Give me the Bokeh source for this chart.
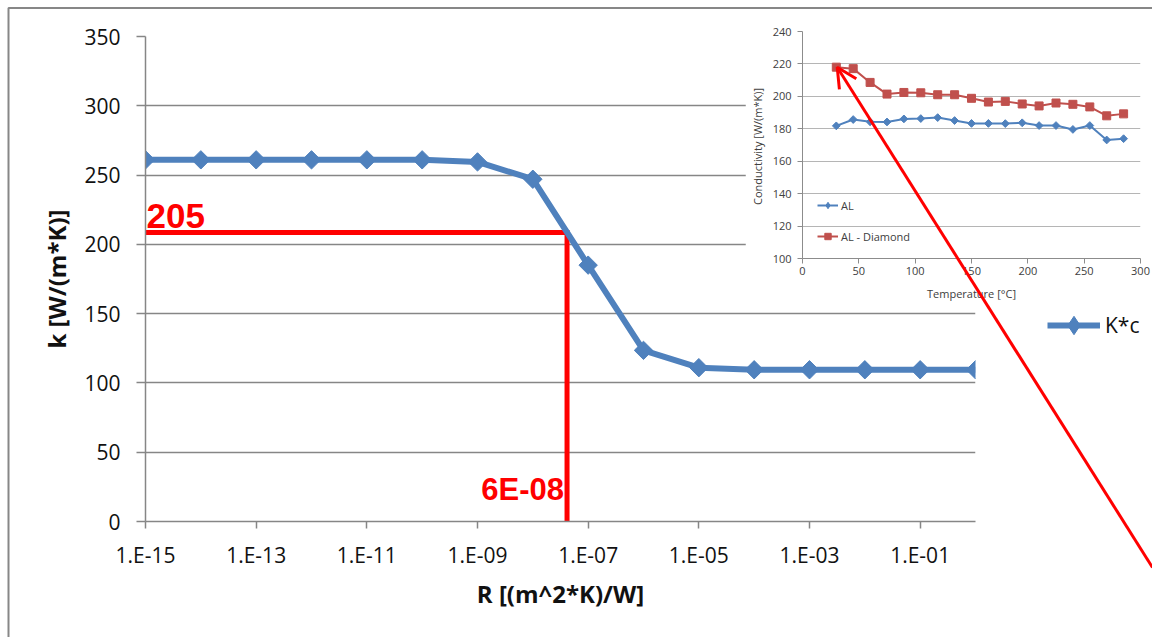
import numpy as np
from bokeh.plotting import figure
from bokeh.models import (Range1d, FixedTicker, CustomJSTickFormatter, Legend, LegendItem,
                          Arrow, OpenHead, Column)
from bokeh.core.properties import value
from bokeh.embed import file_html
from bokeh.resources import INLINE

# ---------------- data: main chart ----------------
R_values = [1e-15, 1e-14, 1e-13, 1e-12, 1e-11, 1e-10, 1e-09, 1e-08,
            1e-07, 1e-06, 1e-05, 1e-04, 1e-03, 1e-02, 1e-01, 1e+00]
k_values = [261, 261, 261, 261, 261, 261, 259.5, 247,
            185, 123.5, 111, 109.5, 109.5, 109.5, 109.5, 109.5]
series_name = "K*c"
R_ticks = [1e-15, 1e-13, 1e-11, 1e-09, 1e-07, 1e-05, 1e-03, 1e-01]
k_ticks = [0, 50, 100, 150, 200, 250, 300, 350]
k_mark = 208.5
k_mark_label = "205"
R_mark = 4.15e-08
R_mark_label = "6E-08"

# ---------------- data: inset chart ----------------
temperature = [30, 45, 60, 75, 90, 105, 120, 135, 150, 165, 180, 195, 210, 225, 240, 255, 270, 285]
al = [181.8, 185.7, 184.3, 184.2, 186.1, 186.3, 186.9, 185.1, 183.3, 183.3, 183.2, 183.7,
      182.0, 182.0, 179.6, 182.0, 173.1, 173.9]
al_diamond = [218.0, 217.1, 208.6, 201.4, 202.4, 202.2, 201.0, 201.0, 198.8, 196.5, 196.9,
              195.3, 194.1, 195.9, 195.1, 193.5, 188.0, 189.2]
temp_ticks = [0, 50, 100, 150, 200, 250, 300]
cond_ticks = [100, 120, 140, 160, 180, 200, 220, 240]

BLUE = "#4F81BD"
RED_S = "#C0504D"
GRID = "#868686"
FONT = "Open Sans"

# ---------------- main figure ----------------
p = figure(width=1152, height=637, x_axis_type="log",
           x_range=Range1d(R_values[0], R_values[-1]), y_range=Range1d(k_ticks[0], k_ticks[-1]),
           output_backend="svg", toolbar_location=None, frame_align=False,
           min_border_left=145, min_border_right=177, min_border_top=36, min_border_bottom=116)
p.outline_line_color = None
p.background_fill_color = "white"
p.border_fill_color = "white"
p.xgrid.visible = False
p.ygrid.grid_line_color = GRID
p.ygrid.grid_line_width = 1.3
p.yaxis.ticker = FixedTicker(ticks=k_ticks)
p.xaxis.ticker = FixedTicker(ticks=R_ticks)
p.xaxis.formatter = CustomJSTickFormatter(code="""
const e = Math.round(Math.log10(tick));
const a = Math.abs(e);
return "1.E" + (e < 0 ? "-" : "+") + (a < 10 ? "0" + a : a);
""")
for ax in (p.xaxis, p.yaxis):
    ax.axis_line_color = GRID
    ax.axis_line_width = 1.5
    ax.major_tick_line_color = GRID
    ax.major_tick_line_width = 1.5
    ax.major_tick_in = 0
    ax.minor_tick_line_color = None
    ax.major_label_text_font = FONT
    ax.major_label_text_font_size = "21px"
    ax.major_label_text_color = "#111111"
    ax.axis_label_text_font = FONT
    ax.axis_label_text_font_size = "24px"
    ax.axis_label_text_font_style = "bold"
    ax.axis_label_text_color = "#111111"
p.yaxis.major_tick_out = 9
p.xaxis.major_tick_out = 7
p.yaxis.major_label_standoff = 16
p.xaxis.major_label_standoff = 12
p.yaxis.axis_label = "k [W/(m*K)]"
p.xaxis.axis_label = "R [(m^2*K)/W]"
p.yaxis.axis_label_standoff = 8
p.xaxis.axis_label_standoff = 5

# red marker lines
p.line(x=[R_values[0], R_mark, R_mark], y=[k_mark, k_mark, k_ticks[0]],
       line_color="red", line_width=5, line_join="miter")
p.text(x=[R_values[0]], y=[k_mark], text=[k_mark_label], text_color="red",
       text_font=value("Liberation Sans"), text_font_style="bold", text_font_size="35px",
       text_baseline="middle", text_align="left", x_offset=1, y_offset=-17)
p.text(x=[R_mark], y=[k_ticks[0]], text=[R_mark_label], text_color="red",
       text_font=value("Liberation Sans"), text_font_style="bold", text_font_size="31px",
       text_baseline="middle", text_align="right", x_offset=-3, y_offset=-32)

p.line(R_values, k_values, line_color=BLUE, line_width=6)
p.scatter(R_values, k_values, marker="square", size=13, angle=np.pi / 4,
          fill_color=BLUE, line_color=BLUE)

# ---------------- inset figure ----------------
q = figure(width=407, height=288, x_range=Range1d(temp_ticks[0], temp_ticks[-1]),
           y_range=Range1d(cond_ticks[0], cond_ticks[-1]),
           output_backend="svg", toolbar_location=None, frame_align=False,
           min_border_left=57, min_border_right=12, min_border_top=16, min_border_bottom=44)
q.outline_line_color = None
q.background_fill_color = "white"
q.border_fill_color = "white"
q.xgrid.visible = False
q.ygrid.grid_line_color = "#b5b5b5"
q.xaxis.ticker = FixedTicker(ticks=temp_ticks)
q.yaxis.ticker = FixedTicker(ticks=cond_ticks)
for ax in (q.xaxis, q.yaxis):
    ax.axis_line_color = "#8c8c8c"
    ax.major_tick_line_color = "#8c8c8c"
    ax.major_tick_in = 0
    ax.major_tick_out = 5
    ax.minor_tick_line_color = None
    ax.major_label_text_font = FONT
    ax.major_label_text_font_size = "11px"
    ax.major_label_text_color = "#404040"
    ax.axis_label_text_font = FONT
    ax.axis_label_text_font_size = "11px"
    ax.axis_label_text_font_style = "normal"
    ax.axis_label_text_color = "#404040"
q.yaxis.major_label_standoff = 6
q.xaxis.major_label_standoff = 3
q.yaxis.axis_label = "Conductivity  [W/(m*K)]"
q.xaxis.axis_label = "Temperature [°C]"
q.yaxis.axis_label_standoff = 5
q.xaxis.axis_label_standoff = 8

l1 = q.line(temperature, al, line_color=BLUE, line_width=2)
q.scatter(temperature, al, marker="square", size=5.5, angle=np.pi / 4,
          fill_color=BLUE, line_color=BLUE)
l2 = q.line(temperature, al_diamond, line_color=RED_S, line_width=2)
m2 = q.scatter(temperature, al_diamond, marker="square", size=8,
               fill_color=RED_S, line_color=RED_S)
# legend-only swatch (single NaN point, nothing plotted) so the legend shows a diamond
sw1 = q.scatter(x=[np.nan], y=[np.nan], marker="diamond", size=9,
                fill_color=BLUE, line_color=BLUE)
leg2 = Legend(items=[LegendItem(label="AL", renderers=[l1, sw1]),
                     LegendItem(label="AL - Diamond", renderers=[l2, m2])],
              location=(15, 14), padding=0, margin=0, border_line_color=None,
              background_fill_alpha=0, glyph_width=21, glyph_height=16, label_height=16,
              spacing=15, label_standoff=3, label_text_font=FONT, label_text_font_size="11px",
              label_text_color="#404040")
q.add_layout(leg2)
q.margin = (-622, 0, 0, 745)

# ---------------- overlay (chart border, main legend, pointer arrow) ----------------
o = figure(width=1152, height=637, x_range=Range1d(0, 1152), y_range=Range1d(637, 0),
           x_axis_location=None, y_axis_location=None, frame_align=False,
           output_backend="svg", toolbar_location=None, min_border=0)
o.grid.visible = False
o.outline_line_color = None
o.background_fill_alpha = 0
o.border_fill_alpha = 0
o.line(x=[8, 8, 1152], y=[637, 7.5, 7.5], line_color="#878787", line_width=2)
o.add_layout(Arrow(end=OpenHead(size=20, line_color="red", line_width=3),
                   x_start=1152, y_start=567, x_end=836.7, y_end=66.7,
                   line_color="red", line_width=3))
# legend swatch renderers (a single NaN point: nothing is plotted, they only style the entry)
lg_line = o.line(x=[np.nan], y=[np.nan], line_color=BLUE, line_width=6)
lg_mark = o.scatter(x=[np.nan], y=[np.nan], marker="diamond", size=20,
                    fill_color=BLUE, line_color=BLUE)
legend = Legend(items=[LegendItem(label=series_name, renderers=[lg_line, lg_mark])],
                location=(1047, 289), padding=0, margin=0, border_line_color=None,
                background_fill_alpha=0, glyph_width=53, glyph_height=46, label_height=46,
                label_standoff=5, label_text_font=FONT, label_text_font_size="21px",
                label_text_color="#111111")
o.add_layout(legend)
o.margin = (-303, 0, 0, 0)

root = Column(children=[p, q, o], spacing=0)
open("out.html", "w").write(file_html(root, INLINE))
